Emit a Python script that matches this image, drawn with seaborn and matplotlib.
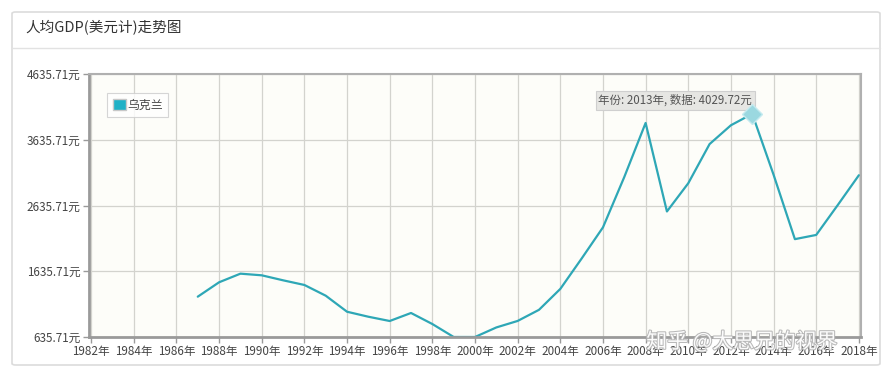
import numpy as np
import pandas as pd
import matplotlib.pyplot as plt
import matplotlib.patheffects as pe
from matplotlib.patches import Patch, FancyBboxPatch
import seaborn as sns

# -------------------------------
# DATA
# -------------------------------
years = [1987, 1988, 1989, 1990, 1991, 1992, 1993, 1994, 1995, 1996, 1997,
         1998, 1999, 2000, 2001, 2002, 2003, 2004, 2005, 2006, 2007, 2008,
         2009, 2010, 2011, 2012, 2013, 2014, 2015, 2016, 2017, 2018]
gdp = [1249, 1468, 1599, 1574, 1498, 1427, 1264, 1020, 944, 879, 1001,
       833, 636, 635.71, 781, 880, 1049, 1367, 1829, 2303, 3069, 3891,
       2545, 2974, 3570, 3856, 4029.72, 3104, 2124, 2188, 2638, 3096]
series_name = "乌克兰"
title = "人均GDP(美元计)走势图"
y_ticks = [635.71, 1635.71, 2635.71, 3635.71, 4635.71]
x_ticks = list(range(1982, 2019, 2))
hl_year, hl_value = 2013, 4029.72

df = pd.DataFrame({"year": years, "gdp": gdp})

# -------------------------------
# STYLE
# -------------------------------
sns.set_style("ticks")
plt.rcParams['font.family'] = ['Noto Sans CJK SC', 'DejaVu Sans']

line_col = "#2ea7b6"
grid_col = "#d3d3ce"
axis_col = "#9a9a9a"
text_col = "#444444"

fig = plt.figure(figsize=(8.92, 3.77), dpi=100, facecolor="white")

# card with header
card = FancyBboxPatch((12 / 892, 12 / 377), 868 / 892, 353 / 377,
                      boxstyle="round,pad=0,rounding_size=0.004",
                      transform=fig.transFigure, facecolor="white",
                      edgecolor="#dcdcdc", linewidth=1.2, zorder=-5)
fig.patches.append(card)
fig.add_artist(plt.Line2D([12 / 892, 880 / 892], [1 - 48 / 377, 1 - 48 / 377],
                          transform=fig.transFigure, color="#e2e2e2", lw=1,
                          zorder=-4))
fig.text(25 / 892, 1 - 28 / 377, title, fontsize=10.5, color="#333333",
         va="center", ha="left")

ax = fig.add_axes([89 / 892, 1 - 337 / 377, (861 - 89) / 892, (337 - 74) / 377])
ax.set_zorder(2)
ax.set_facecolor("#fdfdf9")

sns.lineplot(data=df, x="year", y="gdp", ax=ax, color=line_col, linewidth=1.6)

ax.set_xlim(1981.9, 2018.1)
ax.set_ylim(y_ticks[0], y_ticks[-1])
ax.set_xticks(x_ticks)
ax.set_xticklabels([f"{y}年" for y in x_ticks])
ax.set_yticks(y_ticks)
ax.set_yticklabels([f"{v:.2f}元" for v in y_ticks])
ax.grid(True, color=grid_col, linewidth=0.9)
ax.set_axisbelow(True)
ax.set_xlabel("")
ax.set_ylabel("")
ax.tick_params(colors=axis_col, labelcolor=text_col, labelsize=8.4, length=4,
               width=1, pad=2)
for side in ["left", "bottom"]:
    ax.spines[side].set_color(axis_col)
    ax.spines[side].set_linewidth(2)
for side in ["top", "right"]:
    ax.spines[side].set_color("#b0b0b0")
    ax.spines[side].set_linewidth(1.5)

# highlighted point + tooltip
ax.plot([hl_year], [hl_value], marker="D", markersize=10, color="#9bd8e0",
        markeredgecolor="#c4eaef", zorder=5)
ax.annotate(f"年份: {hl_year}年, 数据: {hl_value:.2f}元", xy=(hl_year, hl_value),
            xytext=(0, 5), textcoords="offset points", ha="right", va="bottom",
            fontsize=8.3, color="#555555",
            bbox=dict(boxstyle="square,pad=0.25", facecolor="#e6e6e3",
                      edgecolor="#cfcfcf", linewidth=0.8))

# legend
leg = ax.legend(handles=[Patch(facecolor="#1fb1c6", edgecolor="#c8c8c8",
                               label=series_name)],
                loc="upper left", bbox_to_anchor=(0.016, 0.95), fontsize=8.6,
                frameon=True, fancybox=False, handlelength=1.1, handleheight=1.1,
                handletextpad=0.1, borderpad=0.45, labelcolor="#444444")
leg.get_frame().set_edgecolor("#cccccc")
leg.get_frame().set_linewidth(0.8)

# watermark
fig.text(742 / 892, 1 - 342 / 377, "知乎 @大思兄的视界", fontsize=15,
         color="white", ha="center", va="center", alpha=0.95, zorder=10,
         path_effects=[pe.withStroke(linewidth=1.5, foreground="#b5b5b5")])

fig.savefig("out.png", dpi=100, facecolor="white")
